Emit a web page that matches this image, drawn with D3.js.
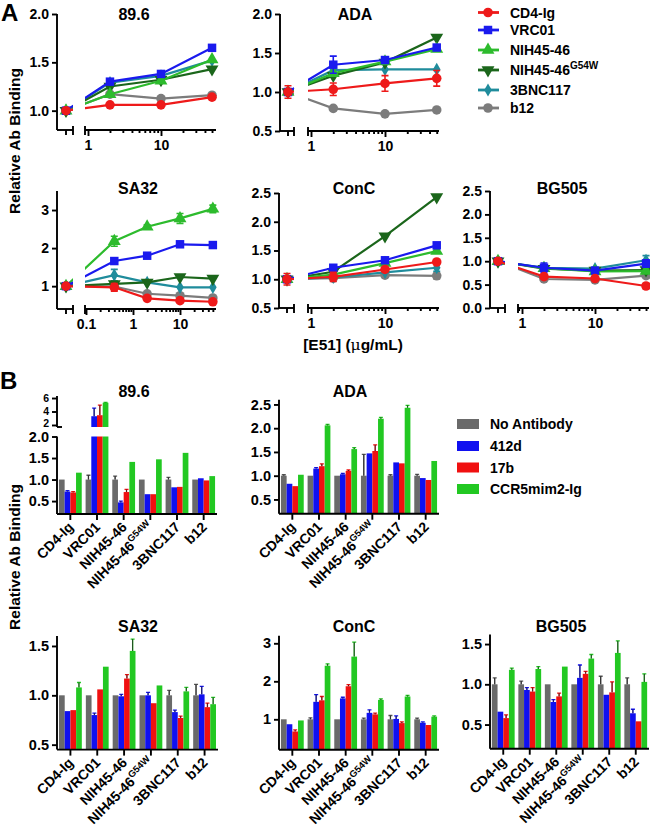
<!DOCTYPE html>
<html><head><meta charset="utf-8">
<script src="https://cdn.jsdelivr.net/npm/d3@7"></script>
<style>
body{margin:0;background:#fff;}
svg{display:block;font-family:"Liberation Sans",Arial,Helvetica,sans-serif;font-weight:bold;}
</style></head><body>
<svg id="c" width="650" height="828"></svg>
<script>
// ================= DATA =================
const antibodies = ["CD4-Ig","VRC01","NIH45-46","NIH45-46G54W","3BNC117","b12"];
const abColors  = ["#ee1a1a","#1a1aee","#2dbb2d","#1b661b","#1f8c9c","#7c7c7c"];
const abSymbols = ["circle","square","triangle","triangleDown","diamond","circle"];

// E51 concentrations (0 = no-E51 control, plotted on the short left segment)
const conc896  = [0, 2, 10, 50];
const concADA  = [0, 2, 10, 50];
const concSA32 = [0, 0.4, 2, 10, 50];
const concConC = [0, 2, 10, 50];
const concBG505= [0, 2, 10, 50];

// rows follow `antibodies`, columns follow the concentrations
const line896 = [
  [1.00,1.06,1.06,1.14],
  [1.00,1.30,1.38,1.65],
  [1.00,1.17,1.31,1.53],
  [1.00,1.25,1.32,1.43],
  [1.00,1.29,1.36,1.52],
  [1.00,1.17,1.125,1.16]];
const err896 = [
  [0.02,0.02,0.03,0.03],[0.02,0.02,0.02,0.02],[0.02,0.02,0.02,0.02],
  [0.02,0.02,0.02,0.02],[0.02,0.02,0.02,0.02],[0.02,0.02,0.02,0.02]];

const lineADA = [
  [1.00,1.035,1.11,1.175],
  [1.00,1.35,1.41,1.57],
  [1.00,1.24,1.39,1.55],
  [1.00,1.21,1.38,1.70],
  [1.00,1.28,1.29,1.29],
  [1.00,0.79,0.72,0.77]];
const errADA = [
  [0.08,0.08,0.10,0.10],[0.02,0.11,0.04,0.03],[0.02,0.03,0.02,0.02],
  [0.02,0.03,0.02,0.02],[0.02,0.03,0.02,0.02],[0.02,0.02,0.02,0.02]];

const lineSA32 = [
  [1.00,0.97,0.68,0.62,0.59],
  [1.00,1.66,1.80,2.10,2.08],
  [1.00,2.18,2.56,2.78,3.03],
  [1.00,1.06,1.10,1.24,1.20],
  [1.00,1.29,1.10,0.97,0.97],
  [1.00,0.99,0.80,0.75,0.69]];
const errSA32 = [
  [0.03,0.10,0.03,0.03,0.03],[0.03,0.03,0.03,0.03,0.03],[0.03,0.13,0.05,0.13,0.10],
  [0.03,0.03,0.03,0.03,0.03],[0.03,0.15,0.03,0.03,0.03],[0.03,0.03,0.03,0.03,0.03]];

const lineConC = [
  [1.00,1.04,1.17,1.30],
  [1.00,1.20,1.33,1.59],
  [1.00,1.08,1.28,1.49],
  [1.00,1.13,1.75,2.43],
  [1.00,1.03,1.12,1.20],
  [1.00,1.02,1.07,1.06]];
const errConC = [
  [0.10,0.08,0.03,0.03],[0.02,0.02,0.02,0.02],[0.02,0.02,0.02,0.02],
  [0.02,0.02,0.02,0.02],[0.02,0.02,0.02,0.06],[0.02,0.02,0.02,0.05]];

const lineBG505 = [
  [1.00,0.67,0.63,0.47],
  [1.00,0.86,0.80,0.95],
  [1.00,0.85,0.78,0.79],
  [1.00,0.84,0.80,0.81],
  [1.00,0.86,0.84,1.02],
  [1.00,0.62,0.60,0.69]];
const errBG505 = [
  [0.04,0.03,0.03,0.05],[0.02,0.10,0.04,0.08],[0.02,0.02,0.02,0.02],
  [0.02,0.02,0.02,0.02],[0.02,0.02,0.02,0.10],[0.02,0.02,0.02,0.02]];

// Panel B
const bindingCats = ["CD4-Ig","VRC01","NIH45-46","NIH45-46G54W","3BNC117","b12"];
const conditions  = ["No Antibody","412d","17b","CCR5mim2-Ig"];
const condColors  = ["#6a6a6a","#1010f0","#f01010","#22c822"];

// rows follow bindingCats, columns follow conditions
const bar896 = [
  [1.00,0.72,0.70,1.16],
  [1.00,3.30,3.45,5.30],
  [1.00,0.47,0.71,1.41],
  [1.00,0.66,0.66,1.47],
  [1.00,0.82,0.83,1.62],
  [1.00,1.03,0.98,1.08]];
const barErr896 = [
  [0.01,0.02,0.02,0.01],[0.10,1.20,1.50,0.05],[0.08,0.03,0.06,0.01],
  [0.01,0.01,0.01,0.01],[0.05,0.01,0.01,0.01],[0.01,0.01,0.01,0.01]];

const barADA = [
  [1.00,0.83,0.78,1.02],
  [1.00,1.15,1.20,2.06],
  [1.00,1.03,1.10,1.56],
  [1.00,1.47,1.52,2.20],
  [1.00,1.28,1.26,2.43],
  [1.00,0.95,0.91,1.31]];
const barErrADA = [
  [0.02,0.01,0.01,0.01],[0.01,0.02,0.05,0.02],[0.01,0.02,0.02,0.03],
  [0.45,0.01,0.13,0.03],[0.02,0.01,0.01,0.05],[0.03,0.01,0.01,0.01]];

const barSA32 = [
  [1.00,0.84,0.85,1.08],
  [1.00,0.80,1.06,1.29],
  [1.00,0.99,1.17,1.45],
  [1.00,1.00,0.92,1.10],
  [1.00,0.83,0.77,1.04],
  [1.00,1.01,0.88,0.91]];
const barErrSA32 = [
  [0.01,0.01,0.01,0.05],[0.01,0.02,0.01,0.01],[0.01,0.02,0.04,0.12],
  [0.01,0.03,0.01,0.01],[0.05,0.02,0.02,0.04],[0.11,0.08,0.04,0.07]];

const barConC = [
  [1.00,0.87,0.68,0.97],
  [1.00,1.46,1.50,2.41],
  [1.00,1.55,1.87,2.65],
  [1.00,1.17,1.13,1.51],
  [1.00,1.01,0.90,1.60],
  [1.00,0.91,0.85,1.07]];
const barErrConC = [
  [0.01,0.01,0.04,0.01],[0.04,0.19,0.10,0.05],[0.01,0.03,0.04,0.38],
  [0.03,0.08,0.03,0.03],[0.10,0.08,0.03,0.03],[0.03,0.02,0.01,0.02]];

const barBG505 = [
  [1.00,0.66,0.58,1.18],
  [1.00,0.93,0.91,1.19],
  [1.00,0.78,0.85,1.22],
  [1.00,1.08,1.13,1.32],
  [1.00,0.87,0.90,1.39],
  [1.00,0.64,0.54,1.03]];
const barErrBG505 = [
  [0.08,0.01,0.04,0.02],[0.04,0.03,0.05,0.03],[0.01,0.03,0.04,0.01],
  [0.00,0.16,0.03,0.05],[0.10,0.01,0.13,0.15],[0.08,0.05,0.01,0.10]];

// ================= DRAWING =================
const svg = d3.select("#c");
const FONT = '"Liberation Sans",Arial,Helvetica,sans-serif';
const AX_W = 1.9;

function fixAxis(g, fs){
  g.attr("font-family", FONT).attr("font-size", fs||14).attr("font-weight","bold");
  g.select(".domain").remove();
  g.selectAll(".tick line").attr("stroke","#000").attr("stroke-width",AX_W);
  g.selectAll(".tick text").attr("fill","#000");
}
function hline(x1,x2,y){ svg.append("line").attr("x1",x1).attr("x2",x2).attr("y1",y).attr("y2",y).attr("stroke","#000").attr("stroke-width",AX_W); }
function vline(x,y1,y2){ svg.append("line").attr("x1",x).attr("x2",x).attr("y1",y1).attr("y2",y2).attr("stroke","#000").attr("stroke-width",AX_W); }
function title(txt,x,y){ svg.append("text").attr("x",x).attr("y",y).attr("text-anchor","middle").attr("font-size",16).attr("font-weight","bold").text(txt); }

function abLabel(sel, name, supSize){
  if (name.endsWith("G54W")) {
    sel.append("tspan").text(name.replace("G54W",""));
    sel.append("tspan").attr("font-size",supSize||9).attr("dy",-6).text("G54W");
  } else sel.text(name);
}

function symbolPath(type){
  const t = {circle:d3.symbolCircle, square:d3.symbolSquare, triangle:d3.symbolTriangle,
             triangleDown:d3.symbolTriangle, diamond:d3.symbolDiamond}[type];
  const size = {circle:72, square:72, triangle:72, triangleDown:72, diamond:50}[type];
  return d3.symbol().type(t).size(size)();
}

let clipId = 0;
function linePanel(L, conc, vals, errs){
  const y = d3.scaleLinear().domain(L.yDom).range(L.yPx);
  const x = d3.scaleLog().domain(L.dec).range(L.decPx);
  x.domain([x.invert(L.mainStart), x.invert(L.mainEnd)]).range([L.mainStart, L.mainEnd]);
  const xp = c => c === 0 ? L.ctrl : x(c);
  const yBot = L.yPx[0], yTop = L.yPx[1];

  // y axis
  const gy = svg.append("g").attr("transform",`translate(${L.x0},0)`)
    .call(d3.axisLeft(y).tickValues(L.yTicks).tickFormat(d3.format(L.fmt)).tickSize(5).tickPadding(3));
  fixAxis(gy);
  vline(L.x0, yTop, yBot);
  // control segment
  hline(L.x0, L.segEnd, yBot);
  vline(L.ctrl, yBot, yBot+5);
  vline(L.segEnd, yBot-4, yBot+5);
  // main log axis
  const minor = x.ticks().filter(t => Math.abs(Math.log10(t) - Math.round(Math.log10(t))) > 1e-6);
  const gmin = svg.append("g").attr("transform",`translate(0,${yBot})`)
    .call(d3.axisBottom(x).tickValues(minor).tickSize(3).tickFormat(""));
  fixAxis(gmin);
  const gmaj = svg.append("g").attr("transform",`translate(0,${yBot})`)
    .call(d3.axisBottom(x).tickValues(L.xTicks).tickSize(6).tickPadding(4).tickFormat(d => d3.format("~g")(d)));
  fixAxis(gmaj);
  hline(L.mainStart, L.mainEnd, yBot);
  vline(L.mainStart, yBot-4, yBot+5);

  // clip for connecting lines (gap at the axis break)
  const id = "clip" + (clipId++);
  const cp = svg.append("clipPath").attr("id", id);
  cp.append("rect").attr("x",L.x0).attr("y",yTop-10).attr("width",L.segEnd-L.x0).attr("height",yBot-yTop+10);
  cp.append("rect").attr("x",L.mainStart).attr("y",yTop-10).attr("width",L.mainEnd-L.mainStart+12).attr("height",yBot-yTop+10);

  const line = d3.line().x((d,i)=>xp(conc[i])).y(d=>y(d));
  for (let s = antibodies.length-1; s >= 0; s--) {
    const col = abColors[s];
    const g = svg.append("g");
    g.append("path").attr("d", line(vals[s])).attr("fill","none").attr("stroke",col)
      .attr("stroke-width",2.2).attr("clip-path",`url(#${id})`);
    vals[s].forEach((v,i) => {
      const e = errs[s][i]; const cx = xp(conc[i]);
      if (e > 0.045) {
        g.append("path").attr("d",`M${cx},${y(v-e)}V${y(v+e)}M${cx-3.5},${y(v-e)}H${cx+3.5}M${cx-3.5},${y(v+e)}H${cx+3.5}`)
          .attr("stroke",col).attr("stroke-width",1.6).attr("fill","none");
      }
      g.append("path").attr("d", symbolPath(abSymbols[s]))
        .attr("transform",`translate(${cx},${y(v)})` + (abSymbols[s]==="triangleDown" ? " rotate(180)" : ""))
        .attr("fill",col);
    });
  }
  title(L.title, L.titleX, L.titleY);
}

const LA = {
  p896: {title:"89.6", titleX:134, titleY:20, x0:57, ctrl:66, segEnd:73, mainStart:85, mainEnd:216,
         dec:[1,10], decPx:[88,161], yDom:[0.8,2.0], yPx:[130,14], yTicks:[1.0,1.5,2.0], fmt:".1f", xTicks:[1,10]},
  pADA: {title:"ADA", titleX:355, titleY:20, x0:280, ctrl:288, segEnd:294, mainStart:308, mainEnd:439,
         dec:[1,10], decPx:[311,385], yDom:[0.5,2.0], yPx:[131,14], yTicks:[0.5,1.0,1.5,2.0], fmt:".1f", xTicks:[1,10]},
  pSA32:{title:"SA32", titleX:138, titleY:194, x0:57, ctrl:66, segEnd:73, mainStart:85, mainEnd:216,
         dec:[0.1,1], decPx:[86,133], yDom:[0.4,3.5], yPx:[309,191], yTicks:[1,2,3], fmt:"d", xTicks:[0.1,1,10]},
  pConC:{title:"ConC", titleX:354, titleY:194, x0:279, ctrl:287, segEnd:294, mainStart:308, mainEnd:439,
         dec:[1,10], decPx:[311,385], yDom:[0.5,2.5], yPx:[308,193], yTicks:[0.5,1.0,1.5,2.0,2.5], fmt:".1f", xTicks:[1,10]},
  pBG505:{title:"BG505", titleX:562, titleY:194, x0:490, ctrl:498, segEnd:505, mainStart:518, mainEnd:649,
         dec:[1,10], decPx:[522,595], yDom:[0,2.5], yPx:[308,191], yTicks:[0,0.5,1.0,1.5,2.0,2.5], fmt:".1f", xTicks:[1,10]}
};
linePanel(LA.p896, conc896, line896, err896);
linePanel(LA.pADA, concADA, lineADA, errADA);
linePanel(LA.pSA32, concSA32, lineSA32, errSA32);
linePanel(LA.pConC, concConC, lineConC, errConC);
linePanel(LA.pBG505, concBG505, lineBG505, errBG505);

// legend A
const legAy = [12.5, 30, 50, 70, 90, 108];
antibodies.forEach((name,i) => {
  const g = svg.append("g").attr("transform",`translate(0,${legAy[i]})`);
  g.append("line").attr("x1",478).attr("x2",499).attr("stroke",abColors[i]).attr("stroke-width",2.8);
  g.append("path").attr("d",symbolPath(abSymbols[i])).attr("fill",abColors[i])
    .attr("transform","translate(488,0)" + (abSymbols[i]==="triangleDown"?" rotate(180)":""));
  const t = g.append("text").attr("x",510).attr("y",5).attr("font-size",14).attr("font-weight","bold");
  abLabel(t, name, 10);
});

// axis labels A
svg.append("text").attr("transform","translate(20,141) rotate(-90)").attr("text-anchor","middle")
  .attr("font-size",15.5).attr("font-weight","bold").text("Relative Ab Binding");
const xl = svg.append("text").attr("x",353).attr("y",350).attr("text-anchor","middle").attr("font-size",15.5).attr("font-weight","bold");
xl.append("tspan").text("[E51] (");
xl.append("tspan").attr("font-family",'"DejaVu Serif",serif').attr("font-weight","normal").text("μ");
xl.append("tspan").text("g/mL)");

// ================= PANEL B =================
const BW = 5.7;
function barPanel(L, vals, errs){
  const xb = d3.scaleBand().domain(bindingCats).range([L.x0, L.xEnd]);
  const cx = c => xb(c) + xb.bandwidth()/2;
  const yLow = d3.scaleLinear().domain(L.yDom).range(L.yPx);
  const yHigh = L.hiDom ? d3.scaleLinear().domain(L.hiDom).range(L.hiPx) : null;
  const base = yLow(L.yDom[0]);

  bindingCats.forEach((c,ci) => {
    conditions.forEach((cond,k) => {
      const v = vals[ci][k], e = errs[ci][k];
      const bx = cx(c) + (k-2)*BW;
      const col = condColors[k];
      let sc;
      if (yHigh && v > L.yDom[1]) {
        svg.append("rect").attr("x",bx).attr("width",BW).attr("y",yLow(L.yDom[1])).attr("height",base-yLow(L.yDom[1])).attr("fill",col);
        svg.append("rect").attr("x",bx).attr("width",BW).attr("y",yHigh(v)).attr("height",yHigh(L.hiDom[0])-yHigh(v)).attr("fill",col);
        sc = yHigh;
      } else {
        svg.append("rect").attr("x",bx).attr("width",BW).attr("y",yLow(v)).attr("height",base-yLow(v)).attr("fill",col);
        sc = yLow;
      }
      if (e > 0.015) {
        const xm = bx + BW/2;
        svg.append("path").attr("d",`M${xm},${sc(v)}V${sc(v+e)}M${xm-2},${sc(v+e)}H${xm+2}`)
          .attr("stroke", k===0 ? "#555" : col).attr("stroke-width",1.3).attr("fill","none");
        svg.append("path").attr("d",`M${xm},${sc(v)}V${sc(v+e)}`).attr("stroke","#222").attr("stroke-width",0.8);
      }
    });
  });

  // y axes
  const gy = svg.append("g").attr("transform",`translate(${L.x0},0)`)
    .call(d3.axisLeft(yLow).tickValues(L.yTicks).tickFormat(d3.format(L.fmt)).tickSize(5).tickPadding(3));
  fixAxis(gy, 14.5);
  vline(L.x0, L.yPx[1], L.yPx[0]);
  if (yHigh) {
    const gh = svg.append("g").attr("transform",`translate(${L.x0},0)`)
      .call(d3.axisLeft(yHigh).tickValues(L.hiTicks).tickFormat(d3.format("d")).tickSize(5).tickPadding(3));
    fixAxis(gh, 10.5);
    gh.selectAll(".tick text").attr("dy", d => d === L.hiTicks[0] ? "0.1em" : "0.32em");
    vline(L.x0, L.hiPx[1], L.hiPx[0]);
    hline(L.x0, L.x0+5, L.hiPx[0]);
  }
  // x axis
  hline(L.x0, L.xEnd, base);
  const gx = svg.append("g").attr("transform",`translate(0,${base})`)
    .call(d3.axisBottom(xb).tickSize(6).tickFormat(""));
  fixAxis(gx);
  bindingCats.forEach(c => {
    const t = svg.append("text").attr("text-anchor","end").attr("font-size",14).attr("font-weight","bold")
      .attr("transform",`translate(${cx(c)+4},${base+14}) rotate(-45)`);
    abLabel(t, c, 9.5);
  });
  title(L.title, L.titleX, L.titleY);
}

const LB = {
  p896: {title:"89.6", titleX:134, titleY:397, x0:57, xEnd:217, yDom:[0.2,2.0], yPx:[514,436.5],
         yTicks:[0.5,1.0,1.5,2.0], fmt:".1f", hiDom:[1.7,6.3], hiPx:[427,396], hiTicks:[2,4,6]},
  pADA: {title:"ADA", titleX:350, titleY:397, x0:279, xEnd:439, yDom:[0.2,2.6], yPx:[513.7,399.7],
         yTicks:[0.5,1.0,1.5,2.0,2.5], fmt:".1f"},
  pSA32:{title:"SA32", titleX:138, titleY:632, x0:57, xEnd:218, yDom:[0.45,1.6], yPx:[749.6,636.1],
         yTicks:[0.5,1.0,1.5], fmt:".1f"},
  pConC:{title:"ConC", titleX:354, titleY:632, x0:279, xEnd:439, yDom:[0.2,3.2], yPx:[749.7,635.7],
         yTicks:[1,2,3], fmt:"d"},
  pBG505:{title:"BG505", titleX:561, titleY:632, x0:490, xEnd:649, yDom:[0.2,1.62], yPx:[748.7,634.4],
         yTicks:[0.5,1.0,1.5], fmt:".1f"}
};
barPanel(LB.p896, bar896, barErr896);
barPanel(LB.pADA, barADA, barErrADA);
barPanel(LB.pSA32, barSA32, barErrSA32);
barPanel(LB.pConC, barConC, barErrConC);
barPanel(LB.pBG505, barBG505, barErrBG505);

// legend B
const legBy = [424, 446, 467.5, 489];
conditions.forEach((c,i) => {
  svg.append("rect").attr("x",457).attr("y",legBy[i]-5).attr("width",22).attr("height",10).attr("fill",condColors[i]);
  svg.append("text").attr("x",490).attr("y",legBy[i]+5).attr("font-size",14).attr("font-weight","bold").text(c);
});
svg.append("text").attr("transform","translate(20,557) rotate(-90)").attr("text-anchor","middle")
  .attr("font-size",15.5).attr("font-weight","bold").text("Relative Ab Binding");

// panel letters
svg.append("text").attr("x",1).attr("y",21).attr("font-size",24).attr("font-weight","bold").text("A");
svg.append("text").attr("x",0).attr("y",389).attr("font-size",24).attr("font-weight","bold").text("B");
</script></body></html>
